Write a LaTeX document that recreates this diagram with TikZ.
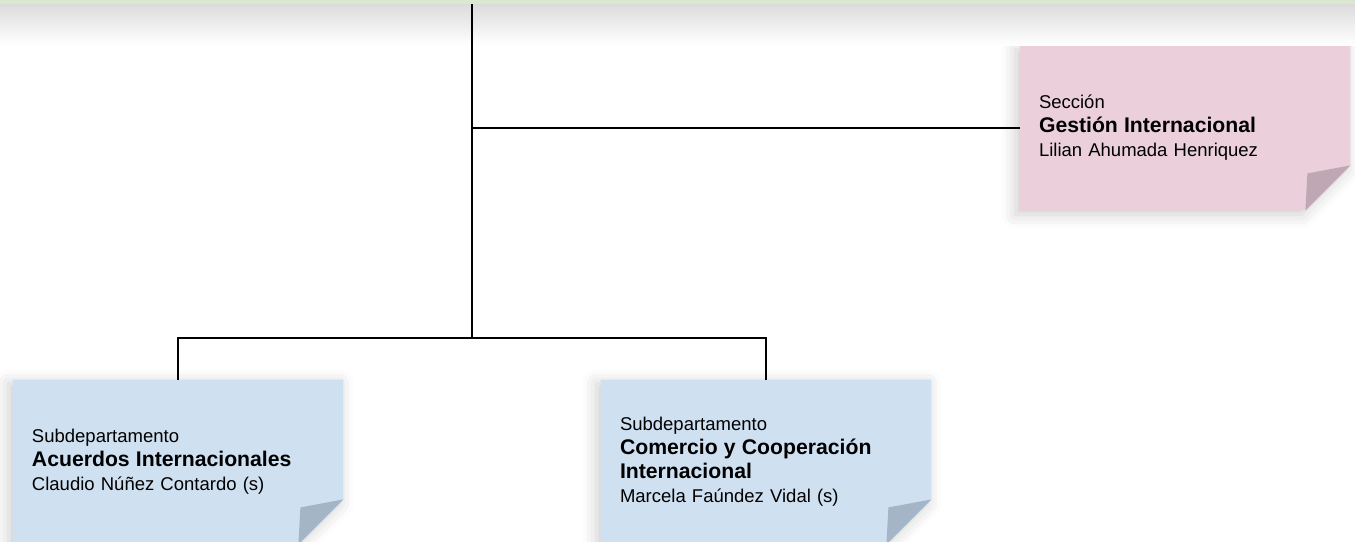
\documentclass[tikz,border=0pt]{standalone}
\usepackage{fontspec}
\setmainfont{Liberation Sans}
\usetikzlibrary{backgrounds,shadows.blur}
\definecolor{stripgreen}{HTML}{D9E8CF}
\definecolor{pinknote}{HTML}{EBD0DC}
\definecolor{pinkfold}{HTML}{BFA7B3}
\definecolor{bluenote}{HTML}{CFE0F1}
\definecolor{bluefold}{HTML}{A4B5C8}
\newcommand{\unitname}[1]{{\fontsize{10.6}{12.4}\selectfont\bfseries #1}}

\begin{document}
\begin{tikzpicture}[x=0.5pt,y=-0.5pt,
  note/.style={rectangle, minimum width=165pt, minimum height=82pt,
    inner xsep=9.5pt, inner ysep=0pt, text width=146pt, align=left,
    font=\fontsize{9.25}{12}\selectfont},
  link/.style={line width=1pt}]
\useasboundingbox (0,0) rectangle (1355,541);

% Top strip
\fill[stripgreen] (0,0) rectangle (1355,4);
\shade[top color=black!14, bottom color=white] (0,4) rectangle (1355,45);

% Units
\node[note] (gestion) at (1185,128) {Sección\\\unitname{Gestión Internacional}\\Lilian Ahumada Henriquez};
\node[note] (acuerdos) at (178,462) {Subdepartamento\\\unitname{Acuerdos Internacionales}\\Claudio Núñez Contardo (s)};
\node[note] (comercio) at (766,462) {Subdepartamento\\\unitname{Comercio y Cooperación}\\\unitname{Internacional}\\Marcela Faúndez Vidal (s)};

% Paper notes behind the text
\begin{scope}[on background layer]
\foreach \n/\c/\f in {gestion/pinknote/pinkfold, acuerdos/bluenote/bluefold, comercio/bluenote/bluefold} {
  \fill[\c, blur shadow={shadow xshift=-2pt, shadow yshift=-2pt, shadow blur radius=7pt, shadow opacity=20}]
    (\n.north west) -- (\n.north east) -- ([yshift=22.5pt]\n.south east)
    -- ([xshift=-22.5pt]\n.south east) -- (\n.south west) -- cycle;
  \fill[\f] ([yshift=22.5pt]\n.south east) -- ([xshift=-21.5pt,yshift=18.5pt]\n.south east)
    -- ([xshift=-22.5pt]\n.south east) -- cycle;
}
\end{scope}

% Lines
\coordinate (root) at (472,4);
\coordinate (split) at (472,338);
\draw[link] (root) -- (split);
\draw[link] (root |- gestion.west) -- (gestion.west);
\draw[link] (acuerdos.north) |- (split) -| (comercio.north);
\end{tikzpicture}
\end{document}
